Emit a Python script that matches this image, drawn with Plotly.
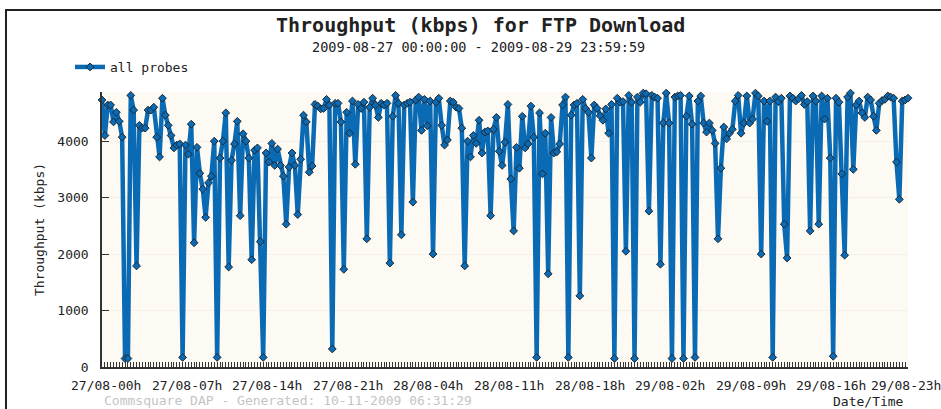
import plotly.graph_objects as go

# Throughput (kbps) per measurement, 27/08 00:00 -> 29/08 23:59
throughput = [
    4730, 4100, 4640, 4640, 4340, 4510, 4350, 4070, 150, 150,
    4810, 4550, 1790, 4280, 4230, 4230, 4550, 4550, 4600, 4070,
    3720, 4760, 4460, 4280, 4100, 3880, 3930, 3950, 170, 3930,
    3770, 4300, 2200, 3890, 3430, 3150, 2650, 3260, 3380, 4000,
    170, 3700, 4000, 4500, 1770, 3660, 3950, 4350, 2680, 4130,
    4000, 3700, 1900, 3840, 3880, 2220, 170, 3790, 3630, 3960,
    3570, 3860, 3570, 3380, 2530, 3540, 3790, 3570, 2700, 3680,
    4460, 4340, 3450, 3560, 4650, 4620, 4570, 4580, 4740, 4640,
    320, 4670, 4670, 4340, 1730, 4510, 4140, 4710, 3590, 4650,
    4580, 4690, 2270, 4600, 4760, 4640, 4420, 4670, 4640, 4670,
    1840, 4440, 4810, 4670, 2340, 4640, 4670, 4690, 2920, 4730,
    4780, 4190, 4740, 4270, 4710, 2000, 4690, 4760, 4280, 3930,
    4020, 4710, 4690, 4600, 4580, 4230, 1790, 4000, 3720, 4100,
    3960, 4370, 3790, 4160, 4180, 2680, 4210, 4420, 3820, 3570,
    3980, 4650, 3330, 2410, 3890, 3520, 4440, 3880, 3950, 4620,
    4070, 170, 4500, 3420, 4140, 1650, 4420, 3790, 3810, 3950,
    4640, 4780, 170, 4460, 4640, 4670, 1260, 4740, 4580, 4510,
    3700, 4640, 4580, 4450, 4370, 4570, 4140, 4650, 150, 4760,
    4690, 4700, 2050, 4810, 4690, 150, 4780, 4690, 4850, 4840,
    2760, 4810, 4780, 4760, 1820, 4320, 4850, 4320, 150, 4780,
    4800, 4810, 150, 4440, 4800, 4300, 170, 4710, 4800, 4320,
    4160, 4320, 4190, 3960, 2270, 3520, 4250, 4040, 4140, 4210,
    4710, 4810, 4140, 4320, 4800, 4320, 4390, 4850, 4800, 2000,
    4710, 4350, 4710, 170, 4780, 4700, 4760, 2530, 1930, 4800,
    4760, 4710, 4750, 4810, 4650, 4700, 2410, 4800, 4710, 2530,
    4800, 4390, 4760, 3700, 190, 4760, 4690, 3420, 1980, 4780,
    4850, 3500, 4640, 4710, 4500, 4420, 4780, 4730, 4440, 4190,
    4670, 4720, 4740, 4800, 4780, 4760, 3630, 2970, 4710, 4730,
    4760,
]

tick_labels = ["27/08-00h", "27/08-07h", "27/08-14h", "27/08-21h", "28/08-04h",
               "28/08-11h", "28/08-18h", "29/08-02h", "29/08-09h", "29/08-16h",
               "29/08-23h"]
y_ticks = [0, 1000, 2000, 3000, 4000]

n = len(throughput)
x = list(range(n))
label_idx = [round(k * (n - 1) / (len(tick_labels) - 1)) for k in range(len(tick_labels))]

FONT = "DejaVu Sans Mono"
BLUE = "#0a6ab4"
DARK = "#222222"

# plot area in pixels: x 102..908, y 92..367
L, R, T, B = 102, 33, 92, 42
W, H = 941, 409
pw, ph = W - L - R, H - T - B


def px(xp):
    return (xp - L) / pw


def py(yp):
    return (H - B - yp) / ph


fig = go.Figure()
fig.add_trace(go.Scatter(
    x=x, y=throughput, mode="lines+markers", name="all probes",
    line=dict(color=BLUE, width=4.5),
    marker=dict(symbol="diamond", size=6, color=BLUE,
                line=dict(color="#1d2833", width=1)),
    cliponaxis=False,
))

annotations = [
    dict(text="<b>Throughput (kbps) for FTP Download</b>", xref="paper", yref="paper",
         x=px(480), y=py(25), xanchor="center", yanchor="middle", showarrow=False,
         font=dict(family=FONT, size=20, color=DARK)),
    dict(text="2009-08-27 00:00:00 - 2009-08-29 23:59:59", xref="paper", yref="paper",
         x=px(478), y=py(47), xanchor="center", yanchor="middle", showarrow=False,
         font=dict(family=FONT, size=13.5, color=DARK)),
    dict(text="Commsquare DAP - Generated: 10-11-2009 06:31:29", xref="paper", yref="paper",
         x=0, y=py(400), xanchor="left", yanchor="middle", showarrow=False,
         font=dict(family=FONT, size=13, color="#c4c4c4")),
    dict(text="Date/Time", xref="paper", yref="paper",
         x=px(906), y=py(401), xanchor="right", yanchor="middle", showarrow=False,
         font=dict(family=FONT, size=13, color=DARK)),
]
# category tick labels under the axis (the last one is kept inside the window)
for k, (i, lab) in enumerate(zip(label_idx, tick_labels)):
    if k == len(tick_labels) - 1:
        annotations.append(dict(text=lab, xref="paper", yref="paper", x=px(943), y=py(385),
                                xanchor="right", yanchor="middle", showarrow=False,
                                font=dict(family=FONT, size=13, color=DARK)))
    else:
        annotations.append(dict(text=lab, xref="x", yref="paper", x=i, y=py(385),
                                xanchor="center", yanchor="middle", showarrow=False, xshift=4,
                                font=dict(family=FONT, size=13, color=DARK)))

fig.update_layout(
    width=W, height=H,
    margin=dict(l=L, r=R, t=T, b=B, autoexpand=False),
    paper_bgcolor="white",
    plot_bgcolor="#fdfaf3",
    font=dict(family=FONT, size=13, color=DARK),
    showlegend=True,
    legend=dict(x=px(70), y=py(52), xanchor="left", yanchor="top",
                bgcolor="rgba(0,0,0,0)", font=dict(family=FONT, size=13, color=DARK),
                itemwidth=30),
    xaxis=dict(
        range=[0, n - 1], tickmode="array", tickvals=x, ticktext=[""] * n,
        ticks="inside", ticklen=5, tickcolor="#333", tickwidth=1,
        showline=True, linecolor="#333", linewidth=2, mirror=False,
        showgrid=False, zeroline=False, automargin=False,
    ),
    yaxis=dict(
        range=[0, 4870], tickmode="array", tickvals=y_ticks,
        ticks="inside", ticklen=7, tickcolor="#333",
        showline=True, linecolor="#333", linewidth=1.5,
        showgrid=True, gridcolor="#f4f0e7", zeroline=False, automargin=False,
        tickfont=dict(family=FONT, size=13, color=DARK),
        ticklabelstandoff=9,
        title=dict(text="Throughput (kbps)", font=dict(family=FONT, size=13, color=DARK),
                   standoff=10),
    ),
    annotations=annotations,
    shapes=[
        dict(type="line", xref="paper", yref="paper", x0=px(5), x1=px(960),
             y0=py(10), y1=py(10), line=dict(color=DARK, width=2)),
        dict(type="line", xref="paper", yref="paper", x0=px(6), x1=px(6),
             y0=py(9), y1=py(420), line=dict(color=DARK, width=2)),
    ],
)

fig.write_html("out.html", config={"displayModeBar": False})

# remove the browser's default page margin so the figure sits at the window's corner
with open("out.html", "r", encoding="utf-8") as f:
    html = f.read()
html = html.replace("<head>", "<head><style>html,body{margin:0;padding:0;overflow:hidden;}</style>", 1)
with open("out.html", "w", encoding="utf-8") as f:
    f.write(html)
